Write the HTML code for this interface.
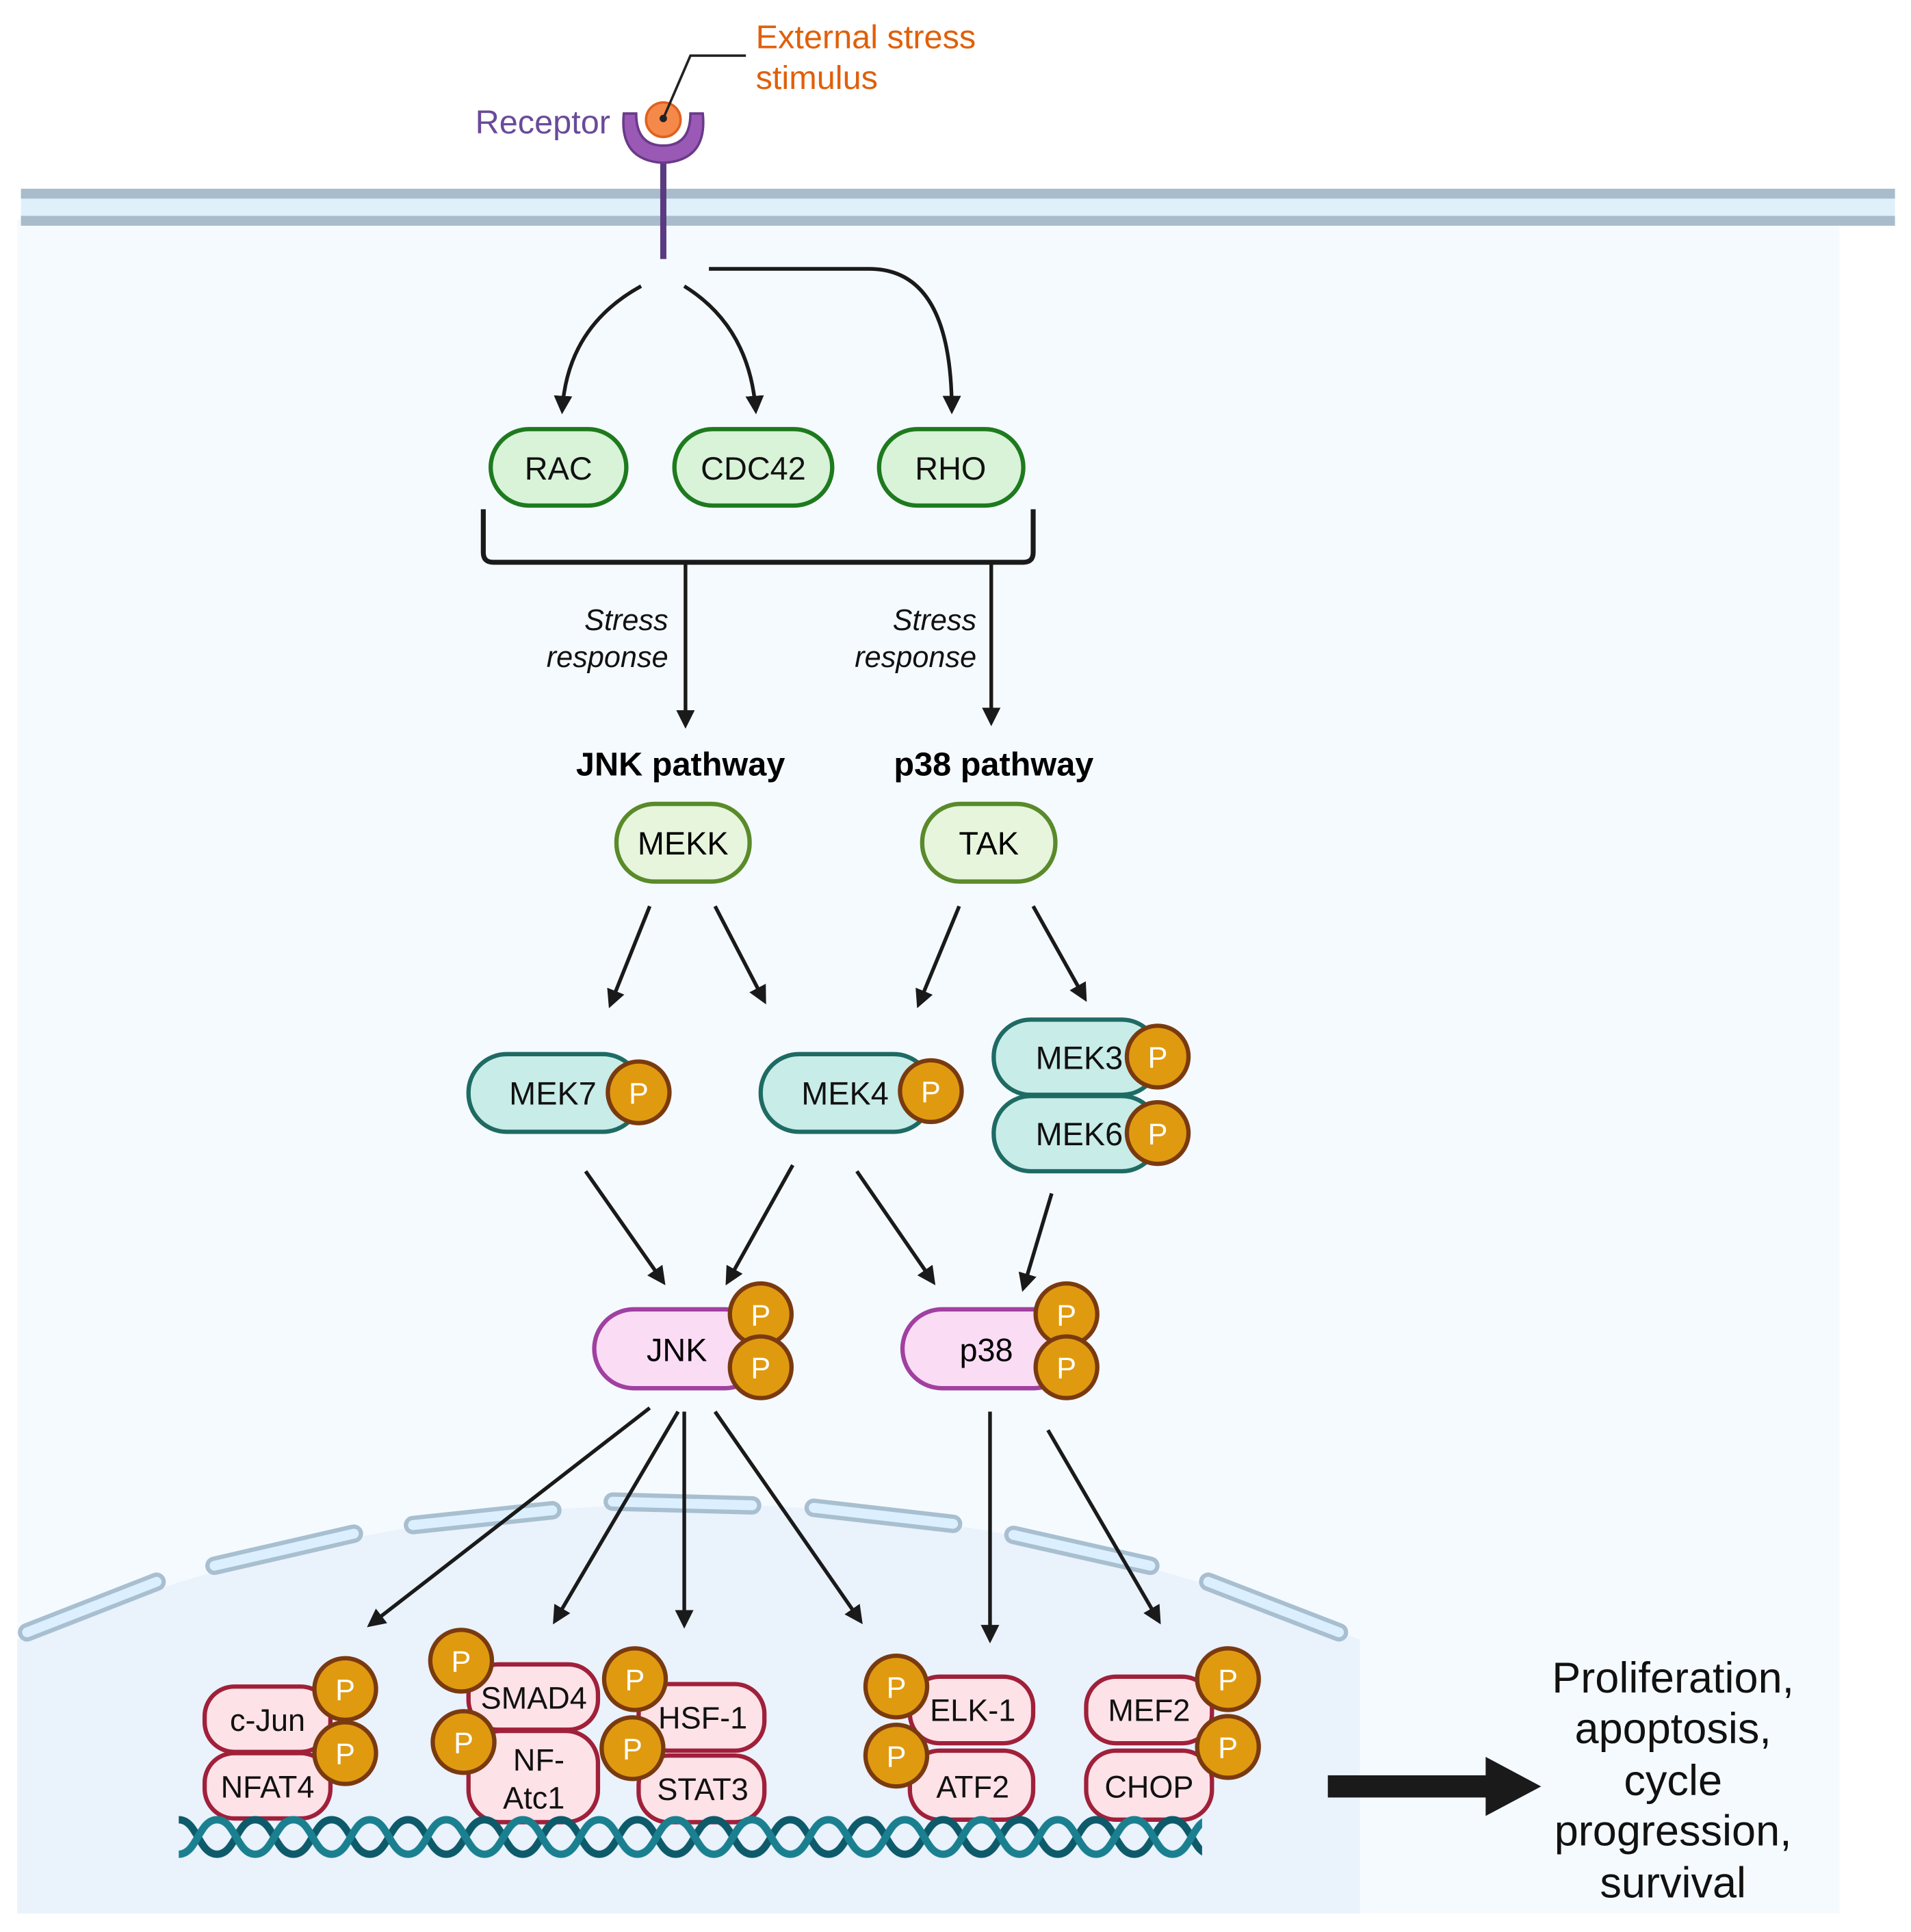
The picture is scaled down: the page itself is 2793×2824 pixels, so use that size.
<!DOCTYPE html>
<html><head><meta charset="utf-8"><style>html,body{margin:0;padding:0;background:#fff}svg{display:block}</style></head>
<body>
<svg width="2793" height="2824" viewBox="0 0 1550 1567" xmlns="http://www.w3.org/2000/svg" font-family="Liberation Sans, sans-serif">
<defs>
<marker id="ah" viewBox="0 0 10 10" refX="8" refY="5" markerWidth="5" markerHeight="5" orient="auto"><path d="M0,0 L10,5 L0,10 Z" fill="#1a1a1a"/></marker>
<pattern id="dna" x="145" y="1470" width="62" height="40" patternUnits="userSpaceOnUse">
<path d="M0,6 C15,6 16,34 31,34 C46,34 47,6 62,6" fill="none" stroke="#0d5a6a" stroke-width="6"/>
<path d="M0,34 C15,34 16,6 31,6 C46,6 47,34 62,34" fill="none" stroke="#1a8090" stroke-width="6"/>
</pattern>
</defs>
<rect width="1550" height="1567" fill="#fff"/>
<rect x="14" y="178" width="1478" height="1374" fill="#f5faff"/>
<rect x="17" y="153" width="1520" height="30" fill="#dff0fb"/>
<rect x="17" y="153" width="1520" height="8" fill="#a8bccc"/>
<rect x="17" y="175" width="1520" height="8" fill="#a8bccc"/>
<path d="M14 1330 Q 560 1110 1103 1330 V 1552 H14 Z" fill="#eaf2fc"/>
<g stroke-linecap="round" fill="none">
<g stroke="#a8bfd0" stroke-width="15">
<path d="M22 1324 L127 1283"/><path d="M174 1270 L287 1244"/><path d="M335 1237 L448 1225"/><path d="M497 1218 L610 1221"/><path d="M660 1223 L773 1236"/><path d="M822 1245 L933 1270"/><path d="M980 1283 L1086 1324"/>
</g>
<g stroke="#dcefff" stroke-width="8">
<path d="M22 1324 L127 1283"/><path d="M174 1270 L287 1244"/><path d="M335 1237 L448 1225"/><path d="M497 1218 L610 1221"/><path d="M660 1223 L773 1236"/><path d="M822 1245 L933 1270"/><path d="M980 1283 L1086 1324"/>
</g>
</g>
<line x1="538" y1="120" x2="538" y2="210" stroke="#5a3a80" stroke-width="5"/>
<path d="M506 92 Q502 130 538 132 Q574 130 570 92 L560 92 Q560 118 538 118 Q516 118 516 92 Z" fill="#9b59b6" stroke="#6a3a8a" stroke-width="2"/>
<circle cx="538" cy="97" r="14" fill="#f4894a" stroke="#e06020" stroke-width="2"/>
<circle cx="538" cy="96" r="3" fill="#222"/>
<polyline points="538,96 560,45 605,45" fill="none" stroke="#222" stroke-width="2"/>
<text x="613" y="39" font-size="27" fill="#e0600a">External stress</text>
<text x="613" y="72" font-size="27" fill="#e0600a">stimulus</text>
<text x="495" y="108" font-size="27" fill="#6a4a9a" text-anchor="end">Receptor</text>
<g fill="none" stroke="#1a1a1a" stroke-width="3" marker-end="url(#ah)">
<path d="M520 232 Q460 265 456 333"/>
<path d="M555 232 Q608 265 613 333"/>
<path d="M575 218 H705 Q772 218 772 333"/>
<path d="M556 456 V588"/><path d="M804 456 V586"/>
<path d="M527 735 L495 815"/><path d="M580 735 L620 812"/><path d="M778 735 L745 815"/><path d="M838 735 L880 810"/>
<path d="M475 950 L538 1040"/><path d="M643 945 L590 1040"/><path d="M695 950 L757 1040"/><path d="M853 968 L830 1045"/>
<path d="M527 1142 L300 1318"/><path d="M550 1145 L450 1315"/><path d="M555 1145 V1318"/><path d="M580 1145 L698 1315"/>
<path d="M803 1145 V1330"/><path d="M850 1160 L940 1315"/>
</g>
<path d="M392 413 V448 Q392 456 400 456 H830 Q838 456 838 448 V413" fill="none" stroke="#1a1a1a" stroke-width="4"/>
<g font-size="24" font-style="italic" text-anchor="end" fill="#111">
<text x="542" y="511">Stress</text><text x="542" y="541">response</text>
<text x="792" y="511">Stress</text><text x="792" y="541">response</text>
</g>
<text x="552" y="629" font-size="27" font-weight="bold" text-anchor="middle">JNK pathway</text>
<text x="806" y="629" font-size="27" font-weight="bold" text-anchor="middle">p38 pathway</text>
<g fill="#d8f3d8" stroke="#1e7a1e" stroke-width="3.5">
<rect x="398" y="348" width="110" height="62" rx="31"/><rect x="547" y="348" width="128" height="62" rx="31"/><rect x="713" y="348" width="117" height="62" rx="31"/>
</g>
<g font-size="26" text-anchor="middle" fill="#111">
<text x="453" y="389">RAC</text><text x="611" y="389">CDC42</text><text x="771" y="389">RHO</text>
</g>
<g fill="#e6f5dc" stroke="#5a8a2a" stroke-width="3.5">
<rect x="500" y="652" width="108" height="63" rx="31"/><rect x="748" y="652" width="108" height="63" rx="31"/>
</g>
<text x="554" y="693" font-size="26" text-anchor="middle">MEKK</text>
<text x="802" y="693" font-size="26" text-anchor="middle">TAK</text>
<g fill="#c8ece8" stroke="#1e6b64" stroke-width="3.5">
<rect x="380" y="855" width="140" height="63" rx="31"/><rect x="617" y="855" width="139" height="63" rx="31"/>
<rect x="806" y="827" width="134" height="61" rx="30"/><rect x="806" y="889" width="134" height="61" rx="30"/>
</g>
<g font-size="26" fill="#111">
<text x="413" y="896">MEK7</text><text x="650" y="896">MEK4</text><text x="840" y="867">MEK3</text><text x="840" y="929">MEK6</text>
</g>
<g fill="#fadcf5" stroke="#a040a0" stroke-width="3.5">
<rect x="482" y="1062" width="138" height="64" rx="32"/><rect x="732" y="1062" width="138" height="64" rx="32"/>
</g>
<text x="549" y="1104" font-size="26" text-anchor="middle">JNK</text>
<text x="800" y="1104" font-size="26" text-anchor="middle">p38</text>
<g fill="#fde2e8" stroke="#a0203a" stroke-width="3.5">
<rect x="166" y="1368" width="102" height="53" rx="24"/><rect x="166" y="1422" width="102" height="53" rx="24"/>
<rect x="380" y="1350" width="105" height="53" rx="24"/><rect x="380" y="1404" width="105" height="74" rx="26"/>
<rect x="518" y="1366" width="102" height="54" rx="24"/><rect x="518" y="1424" width="102" height="54" rx="24"/>
<rect x="738" y="1360" width="100" height="54" rx="24"/><rect x="738" y="1420" width="100" height="56" rx="24"/>
<rect x="881" y="1360" width="102" height="54" rx="24"/><rect x="881" y="1420" width="102" height="56" rx="24"/>
</g>
<g font-size="25" text-anchor="middle" fill="#111">
<text x="217" y="1404">c-Jun</text><text x="217" y="1458">NFAT4</text>
<text x="433" y="1386">SMAD4</text><text x="437" y="1436">NF-</text><text x="433" y="1467">Atc1</text>
<text x="570" y="1402">HSF-1</text><text x="570" y="1460">STAT3</text>
<text x="789" y="1396">ELK-1</text><text x="789" y="1458">ATF2</text>
<text x="932" y="1396">MEF2</text><text x="932" y="1458">CHOP</text>
</g>
<rect x="145" y="1470" width="830" height="40" fill="url(#dna)"/>
<g fill="#e09a10" stroke="#7a3a10" stroke-width="3.5">
<circle cx="518" cy="886" r="25"/><circle cx="755" cy="885" r="25"/><circle cx="939" cy="857" r="25"/><circle cx="939" cy="919" r="25"/>
<circle cx="617" cy="1066" r="25"/><circle cx="617" cy="1109" r="25"/><circle cx="865" cy="1066" r="25"/><circle cx="865" cy="1109" r="25"/>
<circle cx="280" cy="1370" r="25"/><circle cx="280" cy="1422" r="25"/>
<circle cx="374" cy="1347" r="25"/><circle cx="376" cy="1413" r="25"/>
<circle cx="515" cy="1362" r="25"/><circle cx="513" cy="1418" r="25"/>
<circle cx="727" cy="1368" r="25"/><circle cx="727" cy="1424" r="25"/>
<circle cx="996" cy="1362" r="25"/><circle cx="996" cy="1417" r="25"/>
</g>
<g font-size="24" fill="#fff" text-anchor="middle">
<text x="518" y="895">P</text><text x="755" y="894">P</text><text x="939" y="866">P</text><text x="939" y="928">P</text>
<text x="617" y="1075">P</text><text x="617" y="1118">P</text><text x="865" y="1075">P</text><text x="865" y="1118">P</text>
<text x="280" y="1379">P</text><text x="280" y="1431">P</text>
<text x="374" y="1356">P</text><text x="376" y="1422">P</text>
<text x="515" y="1371">P</text><text x="513" y="1427">P</text>
<text x="727" y="1377">P</text><text x="727" y="1433">P</text>
<text x="996" y="1371">P</text><text x="996" y="1426">P</text>
</g>
<rect x="1077" y="1440" width="130" height="18" fill="#1a1a1a"/>
<path d="M1205 1425 L1250 1449 L1205 1473 Z" fill="#1a1a1a"/>
<g font-size="35" text-anchor="middle" fill="#111">
<text x="1357" y="1373">Proliferation,</text><text x="1357" y="1414">apoptosis,</text><text x="1357" y="1456">cycle</text><text x="1357" y="1497">progression,</text><text x="1357" y="1539">survival</text>
</g>
</svg>
</body></html>
